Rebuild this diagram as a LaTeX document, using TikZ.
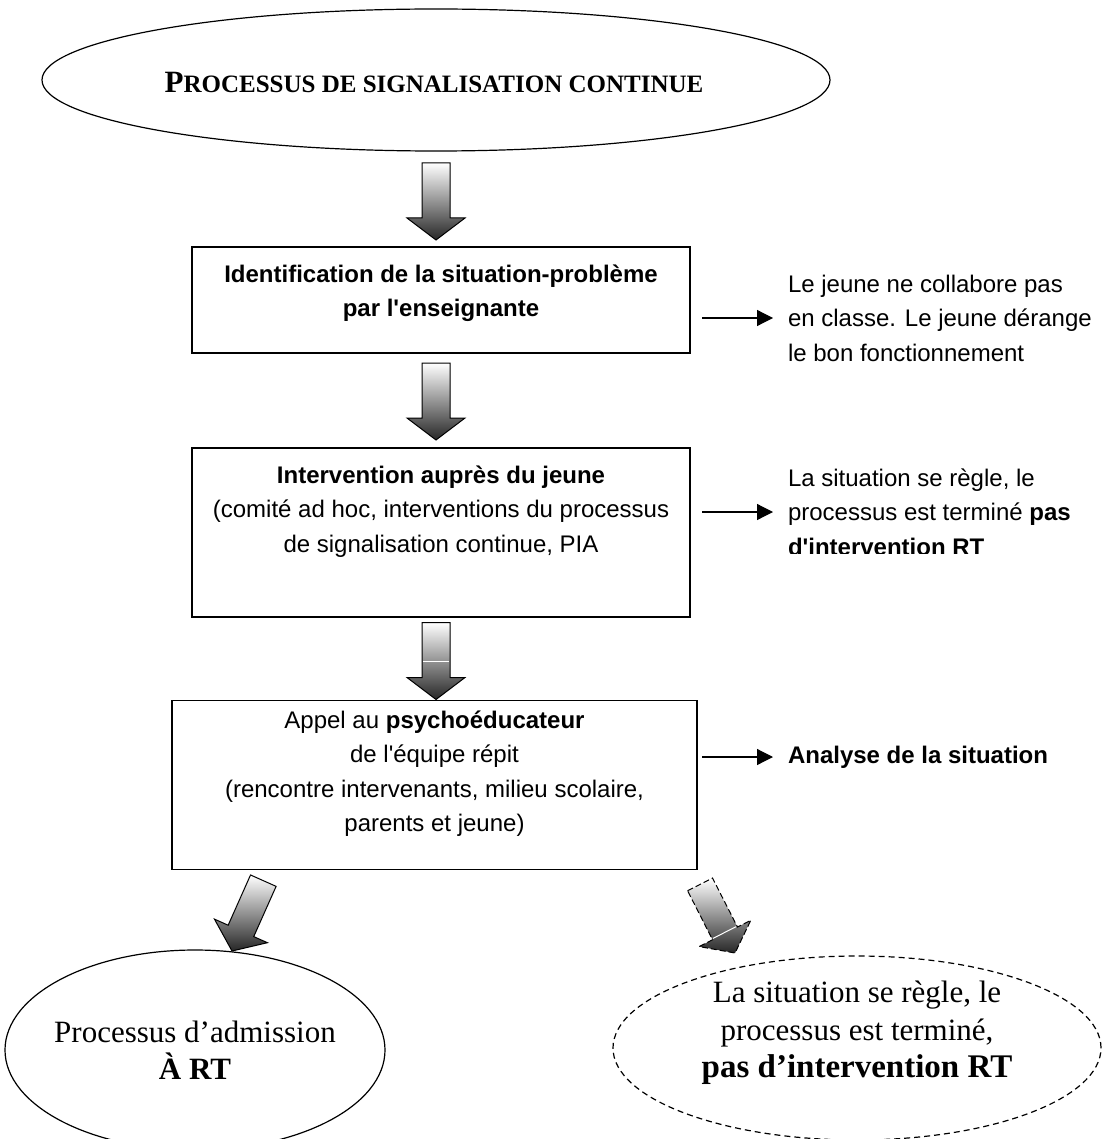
\documentclass[tikz,border=0pt]{standalone}
\usepackage{fontspec}
\setmainfont{Liberation Serif}
\newfontfamily\arialfont{Liberation Sans}
\usetikzlibrary{shapes.geometric,arrows.meta,calc}

% shaded block arrow: #2 = tip, #3 = rotation
\newcommand\blockarrow[3][]{%
  \begin{scope}[shift={(#2)}, rotate=#3]
    \path[blockbody,#1] (-14,-77) -- (14,-77) -- (14,-22) -- (29,-22) -- (0,0)
      -- (-29,-22) -- (-14,-22) -- cycle;
  \end{scope}}
% thin white seam across a block arrow, #3 = distance above the tip
\newcommand\arrowseam[3]{%
  \begin{scope}[shift={(#1)}, rotate=#2]
    \draw[white, line width=1pt] (-13,-#3) -- (13,-#3);
  \end{scope}}

\begin{document}
\begin{tikzpicture}[x=1pt,y=-1pt,
  every node/.style={inner sep=0pt, outer sep=0pt},
  oval/.style={draw, ellipse, line width=1.2pt},
  ovaltext/.style={align=center, font=\fontsize{31}{37.5}\selectfont},
  stepbox/.style={draw, rectangle, line width=1.5pt},
  boxtext/.style={align=center, font=\arialfont\fontsize{24}{34.5}\selectfont},
  sidetext/.style={align=left, font=\arialfont\fontsize{24}{34.5}\selectfont, inner xsep=15pt},
  side/.style={line width=1.2pt, -{Triangle[length=16pt,width=16pt]}},
  blockbody/.style={draw=black, line width=1pt, top color=white, bottom color=black!85, line join=miter}
]
\useasboundingbox (0,0) rectangle (1105,1139);

% title ellipse
\node[oval, minimum width=788, minimum height=142] (top) at (436,80) {};
\node[font=\bfseries] (title) at (434,82)
  {\fontsize{31}{31}\selectfont P\fontsize{25}{25}\selectfont ROCESSUS DE SIGNALISATION CONTINUE};

% process boxes
\node[stepbox, minimum width=498, minimum height=106] (b1) at (441,300) {};
\node[boxtext, anchor=north] (t1) at ([yshift=-17.5pt]b1.north)
  {\bfseries Identification de la situation-problème\\ \bfseries par l'enseignante};

\node[stepbox, minimum width=498, minimum height=169] (b2) at (441,532.5) {};
\node[boxtext, anchor=north] (t2) at ([yshift=-17.5pt]b2.north)
  {\textbf{Intervention auprès du jeune}\\(comité ad hoc, interventions du processus\\de signalisation continue, PIA};

\node[stepbox, minimum width=525, minimum height=169] (b3) at (434.5,785) {};
\node[boxtext, anchor=north] (t3) at ([yshift=-10pt]b3.north)
  {Appel au \textbf{psychoéducateur}\\de l'équipe répit\\(rencontre intervenants, milieu scolaire,\\parents et jeune)};

% side notes
\node[sidetext, anchor=west] (s1) at (773,318)
  {Le jeune ne collabore pas\\en classe. Le jeune dérange\\le bon fonctionnement};
\begin{scope}
  \clip (760,440) rectangle (1105,553);
  \node[sidetext, anchor=west] (s2) at (773,512)
    {La situation se règle, le\\processus est terminé \textbf{pas}\\\textbf{d'intervention RT}};
\end{scope}
\node[sidetext, anchor=west, font=\arialfont\bfseries\fontsize{24}{34.5}\selectfont] (s3) at (773,757)
  {Analyse de la situation};

\draw[side] ([xshift=12pt]b1.east |- s1.west) -- (s1.west);
\draw[side] ([xshift=12pt]b2.east |- s2.west) -- (s2.west);
\draw[side] ([xshift=5pt]b3.east |- s3.west) -- (s3.west);

% outcome ellipses
\node[oval, minimum width=380, minimum height=200] (adm) at (195,1050) {};
\node[ovaltext] (admt) at (adm.center) {Processus d’admission\\\textbf{À RT}};
\node[oval, dash pattern=on 6pt off 4pt, minimum width=488, minimum height=184] (fin) at (857,1048) {};
\node[ovaltext] (fint) at ([yshift=15pt]fin.center)
  {La situation se règle, le\\processus est terminé,\\\textbf{\fontsize{33}{37.5}\selectfont pas d’intervention RT}};

% block arrows between the stages
\coordinate (v1) at ([yshift=7pt]top.south |- b1.north);
\coordinate (v2) at ([yshift=8pt]top.south |- b2.north);
\coordinate (v3) at ([yshift=1pt]top.south |- b3.north);
\coordinate (d1) at (232,951);
\coordinate (d2) at (735,953);
\blockarrow{v1}{0}
\blockarrow{v2}{0}
\blockarrow{v3}{0}
\arrowseam{v3}{0}{38}
\blockarrow{d1}{-24}
\blockarrow[dash pattern=on 6pt off 3pt]{d2}{27}
\arrowseam{d2}{27}{23}
\end{tikzpicture}
\end{document}
